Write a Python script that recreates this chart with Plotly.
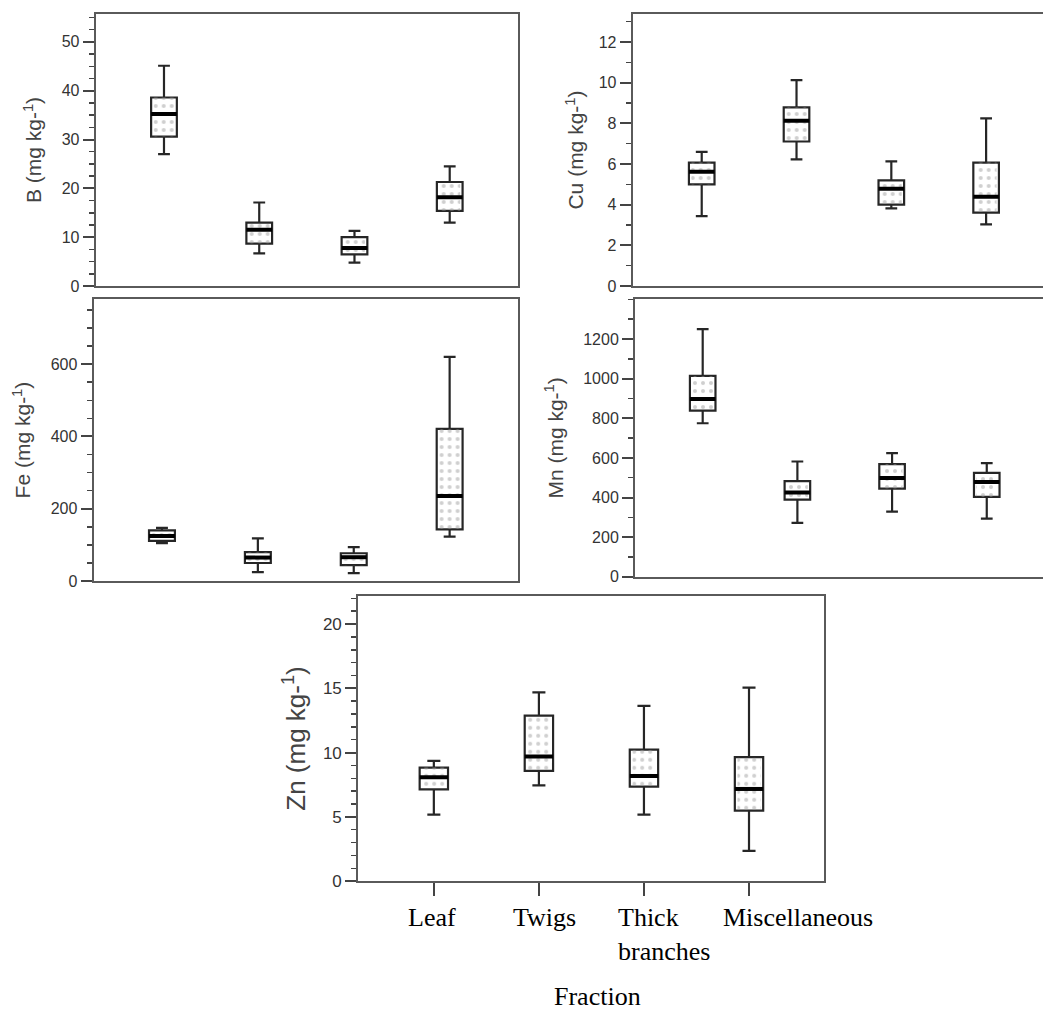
import plotly.graph_objects as go

W, H = 1043, 1023

# ---------------- data ----------------
categories = ["Leaf", "Twigs", "Thick branches", "Miscellaneous"]
tick_labels = ["Leaf", "Twigs", "Thick<br>branches", "Miscellaneous"]
positions = [0, 1, 2, 3]

B_lower = [27.0, 6.7, 4.8, 13.0]
B_q1 = [30.6, 8.7, 6.5, 15.4]
B_median = [35.2, 11.5, 7.8, 18.2]
B_q3 = [38.6, 13.0, 10.0, 21.3]
B_upper = [45.1, 17.1, 11.3, 24.5]

Cu_lower = [3.44, 6.23, 3.82, 3.03]
Cu_q1 = [5.0, 7.11, 4.0, 3.61]
Cu_median = [5.62, 8.13, 4.79, 4.39]
Cu_q3 = [6.07, 8.79, 5.2, 6.07]
Cu_upper = [6.6, 10.13, 6.13, 8.25]

Fe_lower = [105, 25, 22, 123]
Fe_q1 = [111, 50, 44, 143]
Fe_median = [125, 65, 66, 235]
Fe_q3 = [140, 80, 77, 421]
Fe_upper = [147, 118, 94, 620]

Mn_lower = [775, 272, 329, 294]
Mn_q1 = [839, 389, 445, 403]
Mn_median = [898, 426, 498, 478]
Mn_q3 = [1014, 483, 569, 524]
Mn_upper = [1250, 582, 624, 574]

Zn_lower = [5.17, 7.45, 5.17, 2.36]
Zn_q1 = [7.14, 8.57, 7.35, 5.48]
Zn_median = [8.08, 9.69, 8.18, 7.17]
Zn_q3 = [8.83, 12.88, 10.23, 9.64]
Zn_upper = [9.35, 14.68, 13.64, 15.06]

B_ticks = [0, 10, 20, 30, 40, 50]
Cu_ticks = [0, 2, 4, 6, 8, 10, 12]
Fe_ticks = [0, 200, 400, 600]
Mn_ticks = [0, 200, 400, 600, 800, 1000, 1200]
Zn_ticks = [0, 5, 10, 15, 20]

# ---------------- style ----------------
BOX_W = 0.27
SANS = "Liberation Sans, Arial, sans-serif"
SERIF = "Liberation Serif, Times New Roman, serif"
FRAME = "#5a5a5a"
TICKC = "#444444"
TEXTC = "#333333"
VSCALE = 1.01  # vertical layout correction


def px_x(v):
    return v / W


def px_y(v):
    return max(0.0, 1 - v * VSCALE / H)


panels = [
    # name, lower, q1, med, q3, upper, ticks, minor, yrange, xdomain(px),
    # ydomain(px top,bottom), xrange, right frame, title size, tick size, standoff
    ("B", B_lower, B_q1, B_median, B_q3, B_upper, B_ticks, 2.5, [0, 55.7],
     (95.7, 518.3), (14, 286), [-0.717, 3.72], True, 21, 16, 14),
    ("Cu", Cu_lower, Cu_q1, Cu_median, Cu_q3, Cu_upper, Cu_ticks, 1, [0, 13.38],
     (632.7, W), (14, 286), [-0.728, 3.6], False, 21, 16, 9),
    ("Fe", Fe_lower, Fe_q1, Fe_median, Fe_q3, Fe_upper, Fe_ticks, 50, [0, 780],
     (93.6, 518.3), (299, 581), [-0.713, 3.716], True, 21, 16, 14),
    ("Mn", Mn_lower, Mn_q1, Mn_median, Mn_q3, Mn_upper, Mn_ticks, 100, [0, 1402],
     (635, W), (299, 576.7), [-0.715, 3.594], False, 21, 16, 14),
    ("Zn", Zn_lower, Zn_q1, Zn_median, Zn_q3, Zn_upper, Zn_ticks, 1, [0, 22.2],
     (358.2, 823.6), (595.7, 881), [-0.72, 3.71], True, 26, 17, 10),
]

fig = go.Figure()
layout = dict(
    width=W, height=H,
    margin=dict(l=0, r=0, t=0, b=0),
    paper_bgcolor="white", plot_bgcolor="white",
    showlegend=False, hovermode=False,
    annotations=[],
)

for i, (name, lo, q1, med, q3, up, ticks, minor, yr, xd, yd, xr, right, tfs, kfs, stand) in enumerate(panels):
    k = "" if i == 0 else str(i + 1)
    xa, ya = "x" + k, "y" + k

    # box + whiskers
    fig.add_trace(go.Box(
        x=positions, q1=q1, median=med, q3=q3, lowerfence=lo, upperfence=up,
        width=BOX_W, whiskerwidth=0.46, boxpoints=False,
        fillcolor="white", line=dict(color="#262626", width=2.2),
        xaxis=xa, yaxis=ya, hoverinfo="skip",
    ))

    # dotted fill pattern inside each box
    px_, py_ = [], []
    for p, a, b in zip(positions, q1, q3):
        h = BOX_W / 2 - 0.025
        px_ += [p - h, p + h, p + h, p - h, p - h, None]
        py_ += [a, a, b, b, a, None]
    fig.add_trace(go.Scatter(
        x=px_, y=py_, mode="lines", fill="toself",
        fillcolor="rgba(255,255,255,0)", line=dict(width=0),
        fillpattern=dict(shape=".", size=8, solidity=0.2,
                         fgcolor="#a0a0a0", bgcolor="rgba(255,255,255,0)"),
        xaxis=xa, yaxis=ya, hoverinfo="skip",
    ))

    # thick median bar
    mx, my = [], []
    for p, m in zip(positions, med):
        mx += [p - BOX_W / 2, p + BOX_W / 2, None]
        my += [m, m, None]
    fig.add_trace(go.Scatter(
        x=mx, y=my, mode="lines", line=dict(color="black", width=4),
        xaxis=xa, yaxis=ya, hoverinfo="skip",
    ))

    is_bottom = name == "Zn"
    layout["xaxis" + k] = dict(
        domain=[px_x(xd[0]), px_x(xd[1])], anchor=ya, range=xr,
        showgrid=False, zeroline=False, showline=True, linecolor=FRAME,
        linewidth=2, mirror=True,
        tickmode="array", tickvals=positions,
        ticks="outside" if is_bottom else "", ticklen=13, tickwidth=2,
        tickcolor=TICKC, showticklabels=False,
    )
    layout["yaxis" + k] = dict(
        domain=[px_y(yd[1]), px_y(yd[0])], anchor=xa, range=yr,
        showgrid=False, zeroline=False, showline=True, linecolor=FRAME,
        linewidth=2, mirror=right,
        tickmode="array", tickvals=ticks,
        ticks="outside", ticklen=11, tickwidth=2, tickcolor=TICKC,
        tickfont=dict(family=SANS, size=kfs, color=TEXTC),
        minor=dict(dtick=minor, ticks="outside", ticklen=5, tickwidth=1.5,
                   tickcolor=TICKC, showgrid=False),
        title=dict(text=name + " (mg kg-<sup>1</sup>)", standoff=stand,
                   font=dict(family=SANS, size=tfs, color="#444444")),
    )

# category labels under the bottom panel
for p, lab in zip(positions, tick_labels):
    layout["annotations"].append(dict(
        x=p, xref="x5", y=px_y(901), yref="paper",
        text=lab, showarrow=False, xanchor="left", yanchor="top",
        xshift=-28, align="left",
        font=dict(family=SERIF, size=26, color="black"),
    ))

layout["annotations"].append(dict(
    x=px_x(597), y=0, xref="paper", yref="paper",
    text="Fraction", showarrow=False, xanchor="center", yanchor="bottom",
    font=dict(family=SERIF, size=26, color="black"),
))

fig.update_layout(**layout)
fig.write_html(
    "out.html",
    config={"displayModeBar": False, "staticPlot": True},
    post_script="document.body.style.margin='0';document.body.style.overflow='hidden';",
)
